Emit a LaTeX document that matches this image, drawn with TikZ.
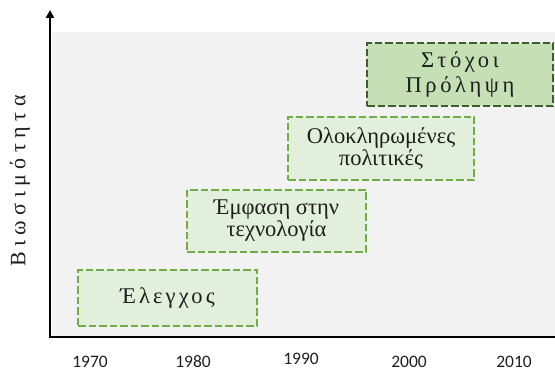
\documentclass[tikz,border=0pt]{standalone}
\usepackage{fontspec}
\setmainfont{Liberation Serif}
\newfontfamily\yearfont{Carlito}
\newfontfamily\spacedfont[LetterSpace=14]{Liberation Serif}
\newfontfamily\goalfont[LetterSpace=16]{Liberation Serif}
\newfontfamily\widefont[LetterSpace=25]{Liberation Serif}
\usetikzlibrary{arrows.meta}
\definecolor{bggray}{HTML}{F2F2F2}
\definecolor{lightfill}{HTML}{E2EFDA}
\definecolor{lightedge}{HTML}{70AD47}
\definecolor{darkfill}{HTML}{C5E0B4}
\definecolor{darkedge}{HTML}{3E5F2C}
\definecolor{textgray}{HTML}{1E1E1E}
\tikzset{
  phasebox/.style={draw=lightedge, fill=lightfill, line width=2.6pt,
    dash pattern=on 7.5pt off 3pt, align=center, text=textgray,
    font=\fontsize{22.5}{22}\selectfont, inner sep=0pt},
  goalbox/.style={phasebox, draw=darkedge, fill=darkfill,
    font=\goalfont\fontsize{22.5}{25}\selectfont},
  yearlabel/.style={font=\yearfont\fontsize{17.5}{20}\selectfont, text=textgray}
}

\begin{document}
\begin{tikzpicture}[x=1pt,y=-1pt]
\useasboundingbox (0,0) rectangle (555,371);
\fill[bggray] (52,32) rectangle (555,337);
\coordinate (origin) at (50,337);
\coordinate (ytop) at (50,10);
\coordinate (xend) at (555,337);
\draw[line width=2.5pt, -{Triangle[length=8pt,width=8pt]}] ([yshift=1.2pt]origin) -- (ytop);
\draw[line width=2.5pt] ([xshift=-1.2pt]origin) -- (xend);
\node[phasebox, minimum width=179pt, minimum height=56pt] (ctrl) at (167.5,298) {\spacedfont Έλεγχος};
\node[phasebox, minimum width=179pt, minimum height=62pt] (tech) at (276.5,221) {Έμφαση στην\\τεχνολογία};
\node[phasebox, minimum width=186pt, minimum height=63pt] (policy) at (381,148.5) {Ολοκληρωμένες\\πολιτικές};
\node[goalbox, minimum width=186pt, minimum height=63pt] (goals) at (460,74.5) {Στόχοι\\Πρόληψη};
\node[rotate=90, font=\widefont\fontsize{22}{24}\selectfont, text=textgray] (ylabel) at (20,181) {Βιωσιμότητα};
\node[yearlabel] (y1970) at (90,362) {1970};
\node[yearlabel] (y1980) at (193,362) {1980};
\node[yearlabel] (y1990) at (301,359) {1990};
\node[yearlabel] (y2000) at (409,362) {2000};
\node[yearlabel] (y2010) at (514,362) {2010};
\end{tikzpicture}
\end{document}
